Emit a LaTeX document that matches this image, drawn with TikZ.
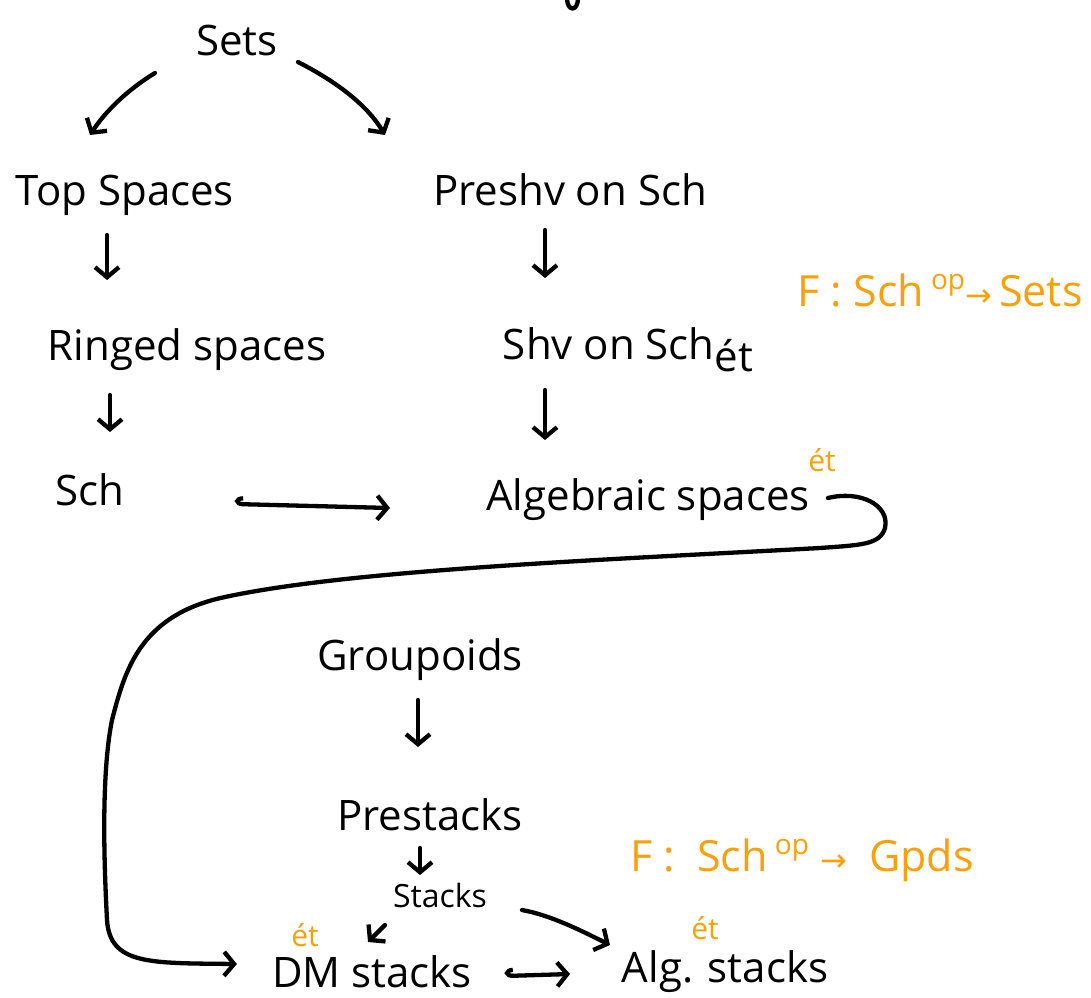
\documentclass[tikz,border=0pt]{standalone}
\usepackage{fontspec}
\setmainfont{Open Sans}
\newfontfamily\djv{DejaVu Sans}
\usetikzlibrary{arrows.meta,calc}
\definecolor{hlorange}{RGB}{250,160,10}
\begin{document}
\begin{tikzpicture}[x=1pt,y=-1pt,
 lbl/.style={font=\fontsize{42}{48}\selectfont, inner sep=0pt},
 sml/.style={font=\fontsize{32}{36}\selectfont, inner sep=0pt},
 orn/.style={text=hlorange, font=\fontsize{43}{46}\selectfont, inner sep=0pt},
 etl/.style={text=hlorange, font=\fontsize{30}{34}\selectfont, inner sep=0pt},
 pen/.style={line width=4.3pt, line cap=round, line join=round},
 arr/.style={pen, -{Straight Barb[length=10pt,width=24pt,line width=4.3pt]}},
 hook/.style={pen, {Hooks[right,length=8pt,width=16pt,line width=4.3pt]}-{Straight Barb[length=10pt,width=24pt,line width=4.3pt]}}
]
\useasboundingbox (0,0) rectangle (1091,997);
% partial title at the top edge
\draw[pen] (567,-2) .. controls (567,12) and (578,12) .. (578,-2);

\node[lbl] (sets) at (237,40) {Sets};
\node[lbl] (top) at (125,195) {Top Spaces};
\node[lbl] (presh) at (570,190) {Preshv on Sch};
\node[lbl] (ringed) at (187,350) {Ringed spaces};
\node[lbl] (shv) at (628,350) {Shv on Sch\raisebox{-12pt}{ét}};
\node[lbl] (sch) at (90,490) {Sch};
\node[lbl] (alg) at (648,500) {Algebraic spaces};
\node[etl] (et1) at (822,460) {ét};
\node[orn] (f1) at (940,290) {F : Sch\,\raisebox{17pt}{\fontsize{28}{30}\selectfont op}{\djv\fontsize{32}{34}\selectfont →}\,Sets};

\node[lbl] (gpd) at (420,660) {Groupoids};
\node[lbl] (pre) at (430,815) {Prestacks};
\node[sml] (stk) at (440,895) {Stacks};
\node[orn] (f2) at (802,860) {F :\ \ Sch\,\raisebox{17pt}{\fontsize{28}{30}\selectfont op}\ {\djv\fontsize{32}{34}\selectfont →}\ \ Gpds};
\node[lbl] (dm) at (372,972) {DM stacks};
\node[etl] (et2) at (305,935) {ét};
\node[lbl] (algst) at (725,972) {Alg. stacks};
\node[etl] (et3) at (705,928) {ét};

% arrows
\draw[arr] ($(sets)+(-82,33)$) .. controls ($(sets)+(-110,50)$) and ($(sets)+(-132,72)$) .. ($(top)+(-35,-60)$);
\draw[arr] ($(sets)+(61,22)$) .. controls ($(sets)+(100,42)$) and ($(sets)+(130,65)$) .. ($(presh)+(-185,-55)$);
\draw[arr] ($(top)+(-18,40)$) -- ($(ringed)+(-80,-70)$);
\draw[arr] ($(presh)+(-25,40)$) -- ($(shv)+(-83,-72)$);
\draw[arr] ($(ringed)+(-77,45)$) -- ($(sch)+(20,-58)$);
\draw[arr] ($(shv)+(-83,40)$) -- ($(alg)+(-103,-60)$);
\draw[hook] ($(sch)+(145,14)$) -- ($(alg)+(-258,8)$);

% big connector
\draw[arr] ($(alg.east)+(18,-2)$) .. controls (860,490) and (890,505) .. (885,528)
  .. controls (880,545) and (860,545) .. (820,548)
  .. controls (600,560) and (350,570) .. (225,597)
  .. controls (140,615) and (125,670) .. (112,720)
  .. controls (100,780) and (105,880) .. (107,920)
  .. controls (110,965) and (150,963) .. ($(dm.west)+(-35,-8)$);

\draw[arr] ($(gpd)+(-2,40)$) -- ($(pre)+(-12,-68)$);
\draw[arr] ($(pre)+(-10,33)$) -- ($(stk)+(-20,-20)$);
\draw[arr] ($(stk)+(-55,30)$) -- ($(dm)+(-4,-30)$);
\draw[arr] ($(stk)+(82,15)$) .. controls ($(stk)+(110,20)$) and ($(stk)+(140,35)$) .. ($(algst)+(-115,-27)$);
\draw[hook] ($(dm)+(133,4)$) -- ($(algst)+(-155,2)$);
\end{tikzpicture}
\end{document}
